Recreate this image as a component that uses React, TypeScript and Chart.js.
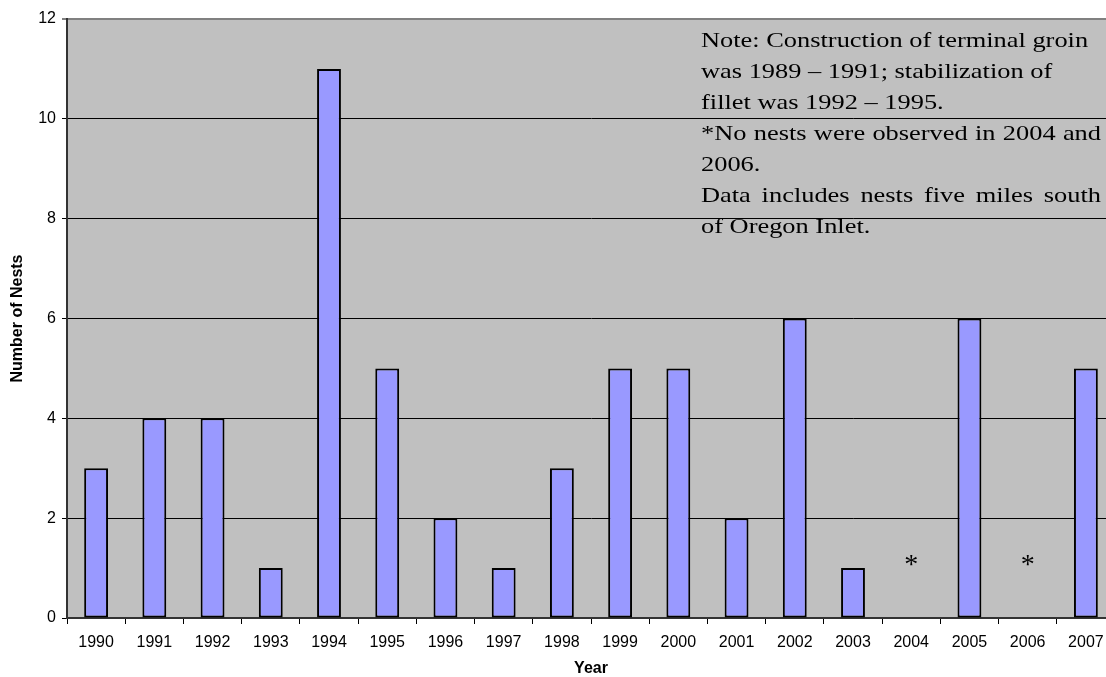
import React, { useEffect, useRef } from "react";
import { Chart, registerables } from "chart.js";

Chart.register(...registerables);

const years = ["1990","1991","1992","1993","1994","1995","1996","1997","1998","1999","2000","2001","2002","2003","2004","2005","2006","2007"];
const nests = [3, 4, 4, 1, 11, 5, 2, 1, 3, 5, 5, 2, 6, 1, 0, 6, 0, 5];
const starYears = ["2004", "2006"];
const noteLines = [
  { text: "Note: Construction of terminal groin", justify: false },
  { text: "was 1989 \u2013 1991; stabilization of", justify: false },
  { text: "fillet was 1992 \u2013 1995.", justify: false },
  { text: "*No nests were observed in 2004 and", justify: true },
  { text: "2006.", justify: false },
  { text: "Data includes nests five miles south", justify: true },
  { text: "of Oregon Inlet.", justify: false },
];

const CANVAS_W = 1115;
const VIEW_W = 1106;
const H = 677;

const bgPlugin = {
  id: "bgPlugin",
  beforeDraw(chart: any) {
    const { ctx, chartArea } = chart;
    ctx.save();
    ctx.fillStyle = "#C0C0C0";
    ctx.fillRect(chartArea.left, chartArea.top, chartArea.right - chartArea.left, chartArea.bottom - chartArea.top);
    ctx.restore();
  },
  afterDraw(chart: any) {
    const { ctx, chartArea } = chart;
    const xs = chart.scales.x;
    const ys = chart.scales.y;
    ctx.save();
    ctx.fillStyle = "#000";
    ctx.font = "28px 'Liberation Serif'";
    ctx.textAlign = "center";
    ctx.textBaseline = "middle";
    starYears.forEach((yr) => {
      const i = years.indexOf(yr);
      ctx.fillText("*", xs.getPixelForValue(i), ys.getPixelForValue(1.05));
    });
    // note text (horizontally stretched like the original)
    const sx = 1.2;
    ctx.font = "22px 'Liberation Serif'";
    ctx.textAlign = "left";
    ctx.textBaseline = "alphabetic";
    const left = 701;
    const right = 1101;
    const width = right - left;
    noteLines.forEach((ln, k) => {
      const y = chartArea.top + 28 + k * 31;
      const drawWord = (w: string, x: number) => {
        ctx.save();
        ctx.translate(x, y);
        ctx.scale(sx, 1);
        ctx.fillText(w, 0, 0);
        ctx.restore();
      };
      if (ln.justify) {
        const words = ln.text.split(" ");
        const total = words.reduce((s, w) => s + ctx.measureText(w).width * sx, 0);
        const gap = (width - total) / (words.length - 1);
        let x = left;
        words.forEach((w) => {
          drawWord(w, x);
          x += ctx.measureText(w).width * sx + gap;
        });
      } else {
        drawWord(ln.text, left);
      }
    });
    ctx.restore();
  },
};

export default function App() {
  const ref = useRef<HTMLCanvasElement>(null);
  useEffect(() => {
    document.body.style.margin = "0";
    const font = { family: "'Liberation Sans', Arial", size: 16 };
    const bold = { family: "'Liberation Sans', Arial", size: 16, weight: "bold" };
    const chart = new Chart(ref.current!, {
      type: "bar",
      data: {
        labels: years,
        datasets: [
          {
            data: nests,
            backgroundColor: "#9999FF",
            borderColor: "#000000",
            borderWidth: (c: any) => (c.raw === 0 ? 0 : 2),
            borderSkipped: false,
            barPercentage: 0.41,
            categoryPercentage: 1,
          },
        ],
      },
      options: {
        animation: false,
        responsive: false,
        maintainAspectRatio: false,
        layout: { padding: { top: 19, right: 0, left: 0, bottom: 0 } },
        plugins: { legend: { display: false }, tooltip: { enabled: false } },
        scales: {
          x: {
            offset: true,
            grid: {
              offset: true,
              drawOnChartArea: false,
              drawTicks: true,
              tickLength: 6,
              color: "#000",
              lineWidth: 1,
            },
            border: { display: true, color: "#333", width: 2 },
            ticks: {
              color: "#000",
              font,
              padding: 9,
              maxRotation: 0,
              autoSkip: false,
            },
            title: {
              display: true,
              text: "Year",
              color: "#000",
              font: { ...bold, lineHeight: 1 },
              padding: { top: 0, bottom: 0 },
            },
            afterFit(scale: any) {
              scale.height = 59;
            },
          },
          y: {
            min: 0,
            max: 12,
            ticks: {
              stepSize: 2,
              color: "#000",
              font,
              padding: 6,
            },
            grid: {
              color: (c: any) => (c.tick && c.tick.value === 12 ? "#808080" : "#000"),
              lineWidth: (c: any) => (c.tick && c.tick.value === 12 ? 2 : 1),
              tickLength: 5,
              drawTicks: true,
            },
            border: { display: true, color: "#333", width: 2 },
            title: {
              display: true,
              text: "Number of Nests",
              color: "#000",
              font: bold,
              padding: { top: 8, bottom: 0 },
            },
            afterFit(scale: any) {
              scale.width = 67;
            },
          },
        },
      },
      plugins: [bgPlugin],
    } as any);
    return () => chart.destroy();
  }, []);
  return (
    <div style={{ position: "absolute", left: 0, top: 0, width: VIEW_W, height: H, overflow: "hidden" }}>
      <canvas ref={ref} width={CANVAS_W} height={H} style={{ width: CANVAS_W, height: H, display: "block" }} />
    </div>
  );
}
